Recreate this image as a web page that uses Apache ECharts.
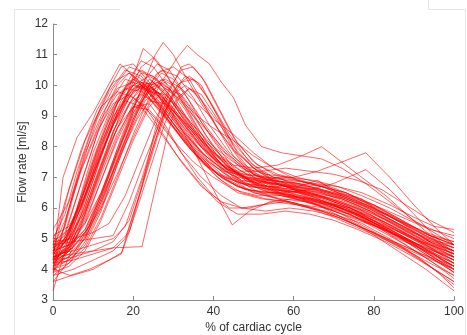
<!DOCTYPE html>
<html><head><meta charset="utf-8">
<script src="https://cdn.jsdelivr.net/npm/echarts@6/dist/echarts.min.js"></script>
<style>html,body{margin:0;padding:0;background:#fff}#c{width:467px;height:335px}</style>
</head><body><div id="c"></div>
<script>
// axis ticks
const xTicks = [0,20,40,60,80,100];
const yTicks = [3,4,5,6,7,8,9,10,11,12];

// each curve: [% of cardiac cycle, flow rate ml/s] vertices
const veryEarlyCurves = [
 [[0,4.3],[2.5,7.0],[6,8.3],[10,9.1],[16.7,10.7],[21,10.2],[25,9.4],[30,8.6],[35,7.8],[41,7.1],[47,6.8],[54,6.6],[61,6.5],[67,6.2],[74,6.0],[81,5.6],[88,5.1],[94,4.7],[100,4.3]],
 [[0,4.8],[3,6.2],[7,7.9],[11,9.2],[15,10.1],[19,10.4],[23,9.9],[28,9.0],[33,8.1],[38,7.4],[43,7.0],[49,6.7],[56,6.6],[62,6.3],[69,6.1],[76,5.8],[83,5.4],[90,5.0],[96,4.6],[100,4.4]],
 [[0,4.0],[4,6.0],[8,7.8],[12,9.0],[16,9.9],[20,10.1],[24,9.6],[29,8.8],[34,8.0],[39,7.3],[44,6.9],[50,6.5],[57,6.3],[63,6.2],[70,5.9],[77,5.6],[84,5.2],[91,4.8],[100,4.1]],
 [[0,5.0],[3,5.8],[6,7.2],[10,8.7],[14,9.8],[18,10.5],[22,10.3],[26,9.7],[31,8.9],[36,8.0],[41,7.3],[46,7.0],[52,6.9],[58,6.7],[64,6.5],[71,6.2],[78,5.9],[85,5.5],[92,5.0],[100,4.6]],
 [[0,4.5],[4,6.6],[8,8.2],[12,9.3],[16,9.8],[20,9.6],[25,9.0],[30,8.2],[35,7.5],[40,7.0],[45,6.6],[51,6.4],[57,6.4],[64,6.2],[70,5.9],[76,5.6],[83,5.3],[89,4.9],[95,4.5],[100,4.0]],
 [[0,3.9],[3,5.1],[7,6.8],[11,8.4],[15,9.6],[18,10.2],[22,10.0],[27,9.3],[32,8.4],[37,7.6],[42,7.0],[48,6.6],[55,6.5],[62,6.4],[68,6.1],[75,5.8],[82,5.4],[89,4.9],[95,4.4],[100,3.9]],
 [[0,4.6],[3,5.4],[7,7.3],[11,8.9],[15,9.9],[19,10.6],[23,10.4],[27,9.8],[32,8.9],[37,8.0],[42,7.3],[47,6.9],[53,6.8],[59,6.7],[65,6.5],[72,6.3],[79,5.9],[86,5.4],[93,4.9],[100,4.5]],
 [[0,5.3],[4,6.2],[8,7.6],[12,8.9],[16,9.7],[20,10.0],[24,9.8],[28,9.2],[33,8.4],[38,7.7],[43,7.2],[49,7.0],[55,6.9],[61,6.8],[67,6.6],[73,6.4],[80,6.1],[87,5.7],[94,5.3],[100,5.1]],
 [[0,3.3],[3,4.6],[6,6.0],[10,7.8],[14,9.1],[18,9.9],[22,9.8],[26,9.3],[31,8.5],[36,7.7],[41,7.0],[46,6.5],[52,6.3],[58,6.2],[64,6.0],[70,5.8],[77,5.5],[84,5.0],[91,4.4],[96,3.9],[100,3.4]],
 [[0,4.2],[3,5.5],[7,7.5],[11,9.0],[14,9.9],[17,10.6],[20,10.7],[24,10.1],[28,9.3],[33,8.4],[38,7.6],[43,7.1],[48,6.8],[54,6.7],[60,6.6],[66,6.4],[72,6.2],[79,5.8],[86,5.3],[93,4.8],[100,4.2]],
 [[0,4.7],[3,5.6],[7,7.2],[11,8.5],[15,9.4],[19,9.7],[23,9.3],[27,8.5],[32,7.5],[37,6.7],[42,6.2],[47,6.0],[52,6.1],[58,6.2],[64,6.0],[70,5.7],[77,5.3],[84,4.9],[91,4.5],[100,4.0]]
];

const earlyCurves = [
 [[0,4.4],[3,4.9],[6,5.9],[10,7.5],[14,8.9],[18,9.9],[21,10.3],[25,9.9],[29,9.2],[34,8.3],[39,7.5],[44,7.0],[49,6.7],[55,6.6],[61,6.5],[67,6.3],[73,6.0],[80,5.6],[87,5.2],[94,4.8],[100,4.5]],
 [[0,4.1],[5,4.5],[9,5.4],[13,6.8],[17,8.3],[21,9.6],[24,10.2],[28,9.8],[32,9.0],[37,8.2],[42,7.6],[47,7.2],[52,6.9],[58,6.6],[64,6.4],[70,6.1],[77,5.7],[84,5.3],[91,4.8],[100,4.2]],
 [[0,4.7],[3,5.0],[7,6.3],[11,7.9],[15,9.2],[19,10.1],[22,10.5],[26,10.2],[30,9.5],[35,8.6],[40,7.8],[45,7.2],[50,6.9],[56,6.8],[62,6.7],[68,6.5],[74,6.2],[81,5.8],[88,5.3],[95,4.9],[100,4.7]],
 [[0,3.8],[4,4.2],[8,4.9],[12,6.0],[16,7.4],[20,8.7],[23,9.5],[26,9.8],[30,9.4],[35,8.7],[40,8.0],[45,7.5],[50,7.1],[56,6.8],[62,6.5],[68,6.2],[75,5.8],[82,5.3],[89,4.7],[95,4.2],[100,3.8]],
 [[0,4.9],[4,5.3],[8,6.6],[12,8.1],[16,9.4],[20,10.2],[23,10.0],[27,9.4],[32,8.5],[37,7.7],[42,7.1],[47,6.8],[53,6.7],[59,6.7],[65,6.6],[71,6.4],[77,6.1],[83,5.7],[90,5.2],[96,4.9],[100,4.8]],
 [[0,4.3],[3,4.6],[6,5.4],[10,6.9],[14,8.4],[18,9.6],[22,10.6],[25,10.9],[28,10.4],[32,9.5],[36,8.6],[41,7.7],[46,7.1],[51,6.8],[57,6.6],[63,6.5],[69,6.3],[75,6.0],[82,5.6],[89,5.1],[95,4.7],[100,4.4]],
 [[0,4.5],[4,5.0],[8,6.4],[12,8.0],[16,9.4],[19,10.2],[22,10.8],[25,10.6],[29,9.9],[33,9.0],[38,8.0],[43,7.3],[48,6.9],[54,6.7],[60,6.6],[66,6.4],[72,6.1],[78,5.8],[85,5.4],[92,4.9],[100,4.5]],
 [[0,4.0],[5,4.4],[9,5.3],[13,6.5],[17,7.9],[21,9.1],[24,9.8],[27,10.0],[31,9.6],[35,9.0],[40,8.3],[45,7.6],[50,7.0],[56,6.6],[62,6.4],[68,6.2],[74,5.9],[81,5.4],[88,4.9],[94,4.4],[100,3.9]],
 [[0,4.6],[3,5.0],[7,6.1],[11,7.5],[15,8.8],[19,9.8],[22,10.4],[25,10.3],[29,9.7],[33,8.9],[38,8.0],[43,7.3],[48,7.0],[54,6.9],[60,6.8],[66,6.6],[72,6.4],[79,6.0],[86,5.5],[93,5.0],[100,4.6]],
 [[0,4.2],[3,4.7],[6,5.7],[10,7.2],[14,8.6],[17,9.5],[20,10.0],[23,9.9],[27,9.3],[31,8.6],[36,7.8],[41,7.1],[46,6.7],[51,6.5],[57,6.4],[63,6.3],[69,6.1],[76,5.8],[83,5.3],[90,4.8],[96,4.4],[100,4.1]],
 [[0,4.8],[3,5.1],[7,6.0],[11,7.4],[15,8.7],[19,9.7],[22,10.1],[25,9.9],[29,9.4],[34,8.6],[39,7.8],[44,7.2],[49,6.9],[55,6.8],[61,6.6],[67,6.5],[73,6.3],[79,6.0],[86,5.6],[93,5.2],[100,4.9]],
 [[0,4.4],[5,4.7],[9,5.4],[13,6.6],[17,7.8],[21,8.9],[24,9.5],[28,9.4],[32,8.9],[37,8.3],[42,7.7],[47,7.2],[52,6.8],[58,6.4],[64,6.2],[70,6.0],[77,5.6],[84,5.2],[91,4.7],[100,4.0]],
 [[0,3.6],[3,4.1],[7,5.4],[11,7.0],[15,8.5],[19,9.6],[22,10.0],[26,9.8],[30,9.2],[35,8.3],[40,7.5],[45,6.9],[50,6.5],[56,6.3],[62,6.1],[68,5.9],[74,5.6],[81,5.1],[88,4.6],[94,4.1],[100,3.6]],
 [[0,4.3],[4,4.8],[8,6.1],[12,7.7],[16,9.1],[20,9.9],[23,10.0],[27,9.5],[32,8.6],[37,7.8],[42,7.3],[48,7.1],[54,7.0],[60,7.0],[66,7.2],[72,7.5],[78,7.8],[84,7.0],[90,6.1],[95,5.4],[100,4.8]],
 [[0,4.0],[3,4.4],[7,5.6],[11,7.1],[15,8.5],[19,9.4],[22,9.7],[26,9.4],[31,8.6],[36,7.8],[41,7.1],[46,6.7],[52,6.5],[58,6.5],[64,6.6],[70,6.8],[78,7.25],[84,6.6],[90,5.8],[95,5.1],[100,4.5]],
 [[0,4.5],[3,4.9],[7,6.0],[11,7.4],[15,8.7],[19,9.6],[22,10.1],[26,10.0],[30,9.4],[35,8.5],[40,7.8],[45,7.4],[50,7.3],[56,7.4],[62,7.7],[67,8.0],[72,7.5],[77,7.0],[83,6.4],[89,5.7],[95,5.0],[100,4.4]],
 [[0,5.1],[4,5.4],[8,6.4],[12,7.8],[16,9.0],[20,9.8],[24,10.0],[28,9.5],[32,8.8],[37,8.0],[42,7.4],[47,7.1],[53,7.0],[59,6.9],[65,6.8],[71,6.7],[77,6.5],[84,6.1],[90,5.7],[95,5.4],[100,5.3]],
 [[0,4.2],[3,4.5],[7,5.5],[11,6.9],[15,8.3],[19,9.4],[22,10.0],[25,10.1],[29,9.6],[33,8.8],[38,7.9],[43,7.2],[48,6.8],[54,6.5],[60,6.3],[66,6.1],[72,5.8],[79,5.3],[86,4.8],[93,4.2],[100,3.5]],
 [[0,4.6],[3,5.2],[6,6.4],[10,8.0],[13,9.2],[16,10.0],[19,10.4],[23,10.0],[27,9.2],[32,8.3],[37,7.5],[42,6.9],[47,6.5],[53,6.3],[59,6.2],[65,6.0],[71,5.7],[78,5.3],[85,4.9],[92,4.5],[100,4.0]],
 [[0,4.3],[3,4.9],[6,6.0],[10,7.6],[14,9.0],[17,9.8],[20,10.2],[24,9.8],[28,9.1],[33,8.2],[38,7.4],[43,6.9],[48,6.6],[54,6.5],[60,6.4],[66,6.2],[72,6.0],[79,5.6],[86,5.1],[93,4.7],[100,4.3]],
 [[0,4.5],[4,5.2],[8,6.6],[12,8.0],[16,9.2],[20,10.0],[24,10.3],[28,10.0],[32,9.5],[36,9.0],[40,8.6],[45,8.2],[50,7.7],[55,7.3],[61,7.0],[67,6.8],[73,6.5],[80,6.1],[87,5.6],[94,5.1],[100,4.8]],
 [[0,4.3],[4,4.7],[8,5.8],[12,7.2],[16,8.6],[20,9.6],[23,10.0],[27,9.7],[31,9.0],[36,8.2],[41,7.5],[46,7.1],[51,6.8],[56,7.0],[61,6.7],[66,6.9],[71,6.5],[77,6.3],[83,5.7],[89,5.3],[95,4.8],[100,4.6]],
 [[0,3.9],[3,4.5],[7,5.9],[11,7.4],[15,8.8],[18,9.6],[21,10.0],[25,9.8],[29,9.3],[34,8.6],[39,7.9],[44,7.3],[49,6.9],[54,6.6],[60,6.4],[66,6.1],[72,5.7],[79,5.2],[86,4.6],[93,4.0],[100,3.3]]
];

const midCurves = [
 [[0,4.4],[4,4.6],[8,5.1],[12,6.3],[16,7.8],[20,9.2],[23,10.2],[26,10.7],[29,10.5],[33,9.7],[37,8.8],[42,7.9],[47,7.3],[52,7.0],[58,6.8],[64,6.7],[70,6.5],[76,6.2],[83,5.8],[90,5.3],[96,4.9],[100,4.7]],
 [[0,4.1],[4,4.3],[8,4.8],[12,5.9],[16,7.4],[20,8.8],[23,9.7],[26,10.1],[29,9.9],[33,9.2],[37,8.3],[42,7.4],[47,6.9],[52,6.6],[58,6.4],[64,6.3],[70,6.1],[76,5.8],[83,5.3],[90,4.8],[96,4.3],[100,4.0]],
 [[0,4.5],[4,4.7],[8,5.3],[12,6.5],[16,7.9],[20,9.2],[23,10.2],[25.5,11.0],[27.5,11.4],[30,11.0],[33,10.3],[37,9.4],[41,8.6],[45,7.9],[50,7.3],[55,7.0],[61,6.9],[67,6.7],[73,6.5],[79,6.1],[86,5.6],[93,5.1],[100,4.7]],
 [[0,4.7],[4,5.0],[8,5.9],[12,7.3],[16,8.8],[19.5,10.1],[22.5,11.2],[26,10.8],[30,10.0],[34,9.1],[38,8.2],[43,7.4],[48,7.0],[54,6.8],[60,6.7],[66,6.6],[72,6.4],[78,6.1],[85,5.7],[92,5.2],[100,4.8]],
 [[0,4.6],[4,4.8],[8,5.2],[12,6.0],[16,7.1],[20,8.3],[24,9.4],[28,10.3],[31,10.9],[33.5,11.3],[36,11.0],[39,10.7],[42,10.1],[45,9.6],[48,8.7],[52,8.0],[57,7.8],[62,7.7],[67,7.6],[72,7.3],[78,6.8],[84,6.2],[90,5.6],[95,5.2],[100,4.8]],
 [[0,4.0],[4,4.2],[8,4.7],[12,5.7],[16,7.0],[20,8.4],[24,9.6],[27,10.2],[30,10.0],[34,9.3],[38,8.4],[43,7.5],[48,6.9],[53,6.6],[59,6.4],[65,6.3],[71,6.1],[77,5.8],[84,5.3],[91,4.8],[100,4.1]],
 [[0,4.8],[4,5.0],[8,5.5],[12,6.5],[16,7.8],[20,9.0],[24,9.9],[27,10.4],[30,10.2],[34,9.5],[38,8.7],[43,7.8],[48,7.3],[53,7.1],[59,7.0],[65,6.9],[71,6.7],[77,6.4],[84,6.0],[91,5.5],[100,5.0]],
 [[0,4.3],[4,4.5],[8,5.0],[12,6.1],[16,7.5],[20,8.9],[24,9.9],[28,10.1],[32,9.6],[36,8.8],[40,8.0],[45,7.2],[50,6.8],[56,6.6],[62,6.5],[68,6.3],[74,6.0],[81,5.6],[88,5.1],[95,4.6],[100,4.3]],
 [[0,3.9],[4,4.1],[8,4.6],[12,5.6],[16,6.9],[20,8.2],[24,9.3],[28,9.9],[32,9.7],[36,9.0],[40,8.2],[45,7.3],[50,6.8],[56,6.5],[62,6.3],[68,6.1],[74,5.8],[81,5.3],[88,4.8],[95,4.2],[100,3.7]],
 [[0,4.6],[4,4.8],[8,5.3],[12,6.4],[16,7.7],[20,9.1],[24,10.0],[27,10.5],[31,10.3],[35,9.6],[39,8.7],[44,7.8],[49,7.2],[55,6.9],[61,6.8],[67,6.7],[73,6.5],[80,6.1],[87,5.6],[94,5.1],[100,4.8]],
 [[0,4.2],[4,4.4],[8,5.0],[12,6.2],[16,7.6],[20,8.9],[23,9.8],[26,10.4],[30,10.6],[34,10.2],[38,9.3],[42,8.4],[47,7.5],[52,7.0],[58,6.7],[64,6.5],[70,6.3],[76,6.0],[83,5.5],[90,5.0],[100,4.3]],
 [[0,4.4],[4,4.6],[8,5.2],[12,6.4],[16,7.8],[20,9.1],[24,9.8],[28,9.7],[32,9.2],[36,8.5],[40,7.7],[45,7.0],[50,6.6],[56,6.3],[62,6.1],[68,6.0],[74,5.8],[81,5.4],[88,5.0],[95,4.6],[100,4.4]],
 [[0,4.1],[3,4.8],[7,6.2],[11,7.8],[15,9.0],[18,9.5],[22,9.3],[26,8.6],[31,7.7],[36,6.9],[41,6.2],[46,5.8],[52,5.8],[58,5.9],[64,5.8],[70,5.6],[76,5.3],[83,4.9],[90,4.4],[95,4.0],[100,3.6]],
 [[0,4.6],[4,5.0],[8,6.0],[12,7.4],[16,8.6],[20,9.3],[24,9.2],[28,8.6],[32,7.8],[37,7.0],[42,6.4],[47,6.0],[53,5.9],[59,6.0],[65,5.9],[71,5.7],[78,5.3],[85,4.9],[92,4.5],[100,4.1]],
 [[0,4.4],[4,4.7],[8,5.5],[12,6.9],[16,8.3],[20,9.4],[23,9.9],[27,9.6],[31,8.9],[36,8.1],[41,7.5],[46,7.2],[52,7.2],[58,7.3],[64,7.2],[70,7.1],[76,6.9],[82,6.6],[88,6.1],[94,5.6],[100,5.2]],
 [[0,4.2],[4,4.6],[8,5.6],[12,6.9],[16,8.2],[20,9.3],[24,10.0],[28,10.2],[32,9.9],[36,9.4],[40,8.9],[45,8.4],[50,7.8],[55,7.3],[61,6.9],[67,6.7],[73,6.4],[80,6.0],[87,5.5],[94,4.9],[100,4.5]]
];

const lateCurves = [
 [[0,4.4],[5,4.5],[10,4.6],[15,4.7],[22.2,4.74],[28.4,8.3],[31,9.5],[34,9.9],[37,9.5],[41,8.6],[45,7.7],[50,7.1],[55,6.8],[61,6.7],[67,6.5],[73,6.2],[80,5.8],[87,5.3],[94,4.8],[100,4.4]],
 [[0,4.0],[4.25,3.8],[9,4.0],[14,4.3],[17,4.5],[21,6.2],[25,8.0],[28,9.2],[31,10.0],[34,10.3],[37,10.0],[41,9.0],[45,8.0],[50,7.3],[55,6.9],[61,6.6],[67,6.4],[73,6.1],[80,5.6],[87,5.1],[94,4.6],[100,4.2]],
 [[0,4.2],[5,4.3],[10,4.5],[15,4.7],[19,5.2],[22,6.6],[25,8.3],[27.5,9.6],[31,8.8],[35,7.9],[40,6.6],[44.7,5.45],[49,5.9],[54,6.2],[60,6.3],[66,6.1],[72,5.9],[79,5.5],[86,5.0],[93,4.6],[100,4.2]],
 [[0,4.5],[5,4.6],[10,4.8],[15,5.0],[18,5.4],[22,6.9],[26,8.6],[29,9.8],[32,10.6],[34,10.7],[37,10.3],[41,9.3],[45,8.3],[50,7.5],[55,7.1],[61,6.9],[67,6.7],[73,6.4],[80,6.0],[87,5.5],[94,5.0],[100,4.6]],
 [[0,3.8],[5,4.0],[10,4.3],[15,4.6],[18,5.0],[22,6.6],[26,8.3],[29,9.4],[32,10.1],[35,10.2],[38,9.7],[42,8.8],[46,7.8],[51,7.2],[56,6.8],[62,6.5],[68,6.3],[74,6.0],[81,5.5],[88,5.0],[94,4.5],[100,4.1]],
 [[0,4.9],[5,5.0],[10,5.2],[14,5.5],[18,6.4],[22,7.7],[26,9.0],[29,9.9],[32,10.5],[35,10.6],[38,10.1],[42,9.1],[46,8.1],[51,7.4],[56,7.1],[62,6.9],[68,6.7],[74,6.4],[81,6.0],[88,5.5],[94,5.1],[100,4.9]],
 [[0,3.6],[4.25,3.78],[10,4.0],[14,4.3],[17.2,4.55],[21,6.0],[25,7.6],[28,8.8],[31,9.6],[34,9.9],[37,9.7],[41,8.9],[45,7.9],[50,7.1],[55,6.7],[61,6.4],[67,6.2],[73,6.0],[80,5.5],[87,5.0],[94,4.4],[100,3.9]],
 [[0,4.3],[5,4.4],[10,4.6],[15,4.9],[19,5.6],[23,7.2],[27,8.8],[30,9.8],[33,10.3],[36,10.1],[40,9.3],[44,8.4],[49,7.5],[54,7.0],[60,6.7],[66,6.5],[72,6.3],[79,5.9],[86,5.4],[93,4.9],[100,4.4]],
 [[0,4.8],[5,4.9],[10,5.0],[15,5.1],[19,6.2],[23,7.6],[27,8.9],[30,9.7],[33,10.0],[36,9.7],[40,9.0],[45,8.1],[50,7.4],[55,7.0],[61,6.8],[67,6.6],[73,6.3],[80,5.9],[87,5.4],[94,4.9],[100,4.6]],
 [[0,4.1],[4,4.6],[8,5.7],[12,7.1],[16,8.4],[20,9.3],[24,9.4],[28,8.7],[32,7.8],[36,7.0],[40,6.4],[44,6.0],[49,6.0],[55,6.2],[61,6.1],[67,5.9],[73,5.6],[80,5.2],[87,4.7],[94,4.2],[100,3.8]]
];

const allCurves = veryEarlyCurves.concat(earlyCurves, midCurves, lateCurves);
const series = allCurves.map(pts => ({
  type: 'line',
  data: pts,
  symbol: 'none',
  silent: true,
  lineStyle: { color: 'rgba(255,0,0,0.6)', width: 1 }
}));

const font = '"Liberation Sans", Arial, sans-serif';
const axisCommon = {
  axisLine: { show: true, lineStyle: { color: '#8a8a8a', width: 1 } },
  axisTick: { show: true, inside: true, length: 4, lineStyle: { color: '#8a8a8a' } },
  splitLine: { show: false },
  nameMoveOverlap: false,
  axisLabel: { color: '#333', fontSize: 12, fontFamily: font },
  nameTextStyle: { color: '#333', fontSize: 12, fontFamily: font }
};

const chart = echarts.init(document.getElementById('c'), null, { renderer: 'canvas' });
chart.setOption({
  animation: false,
  backgroundColor: '#fff',
  grid: { left: 53, right: 13, top: 24, bottom: 35, containLabel: false, outerBoundsMode: 'none' },
  xAxis: Object.assign({}, axisCommon, {
    type: 'value', min: xTicks[0], max: xTicks[xTicks.length - 1], interval: 20,
    name: '% of cardiac cycle', nameLocation: 'middle', nameGap: 22,
    axisLabel: Object.assign({}, axisCommon.axisLabel, { margin: 6 })
  }),
  yAxis: Object.assign({}, axisCommon, {
    type: 'value', min: yTicks[0], max: yTicks[yTicks.length - 1], interval: 1,
    name: 'Flow rate [ml/s]', nameLocation: 'middle', nameGap: 24, nameRotate: 90,
    axisLabel: Object.assign({}, axisCommon.axisLabel, { margin: 5 })
  }),
  graphic: [
    { type: 'polyline', silent: true, shape: { points: [[14.5, 335], [14.5, 9.5], [120, 9.5]] }, style: { stroke: '#e6e6e6', lineWidth: 1, fill: null } },
    { type: 'polyline', silent: true, shape: { points: [[428.5, 0], [428.5, 9.5], [465.5, 9.5], [465.5, 335]] }, style: { stroke: '#e6e6e6', lineWidth: 1, fill: null } }
  ],
  series: series
});
</script></body></html>
